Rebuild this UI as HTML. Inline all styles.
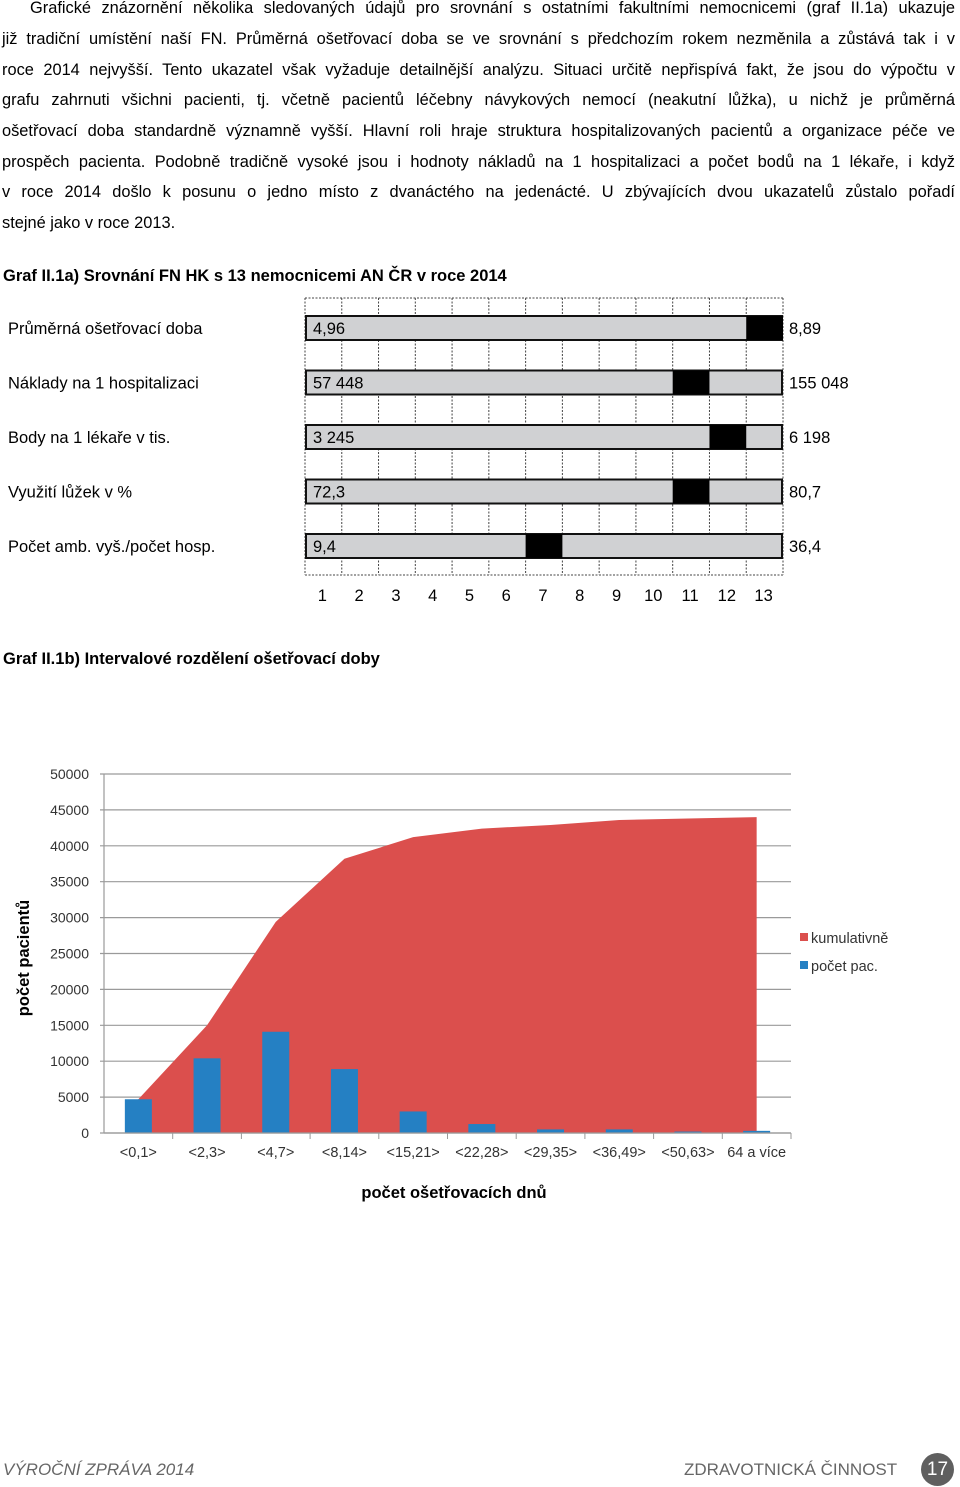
<!DOCTYPE html>
<html><head><meta charset="utf-8">
<style>
body{margin:0;width:960px;height:1487px;background:#fff;position:relative;overflow:hidden;font-family:"Liberation Sans",Arial,sans-serif;color:#000}
.ln{position:absolute;left:2px;width:953px;font-size:16.4px;line-height:20px;text-align:justify;text-align-last:justify;white-space:nowrap}
.ln.last{text-align-last:left}
.h{position:absolute;left:3px;font-size:16.5px;font-weight:bold}
.lbl{position:absolute;left:8px;font-size:16.5px}
.val{position:absolute;left:789px;font-size:16.5px}
svg text{font-family:"Liberation Sans",Arial,sans-serif}
</style></head><body>
<div>
<div class="ln" style="top:-2px;left:30px;width:925px">Grafické znázornění několika sledovaných údajů pro srovnání s ostatními fakultními nemocnicemi (graf II.1a) ukazuje</div>
<div class="ln" style="top:29px">již tradiční umístění naší FN. Průměrná ošetřovací doba se ve srovnání  s předchozím rokem nezměnila a zůstává tak i v</div>
<div class="ln" style="top:60px">roce 2014 nejvyšší. Tento ukazatel však vyžaduje detailnější analýzu. Situaci určitě nepřispívá fakt, že jsou do výpočtu v</div>
<div class="ln" style="top:90px">grafu zahrnuti všichni pacienti, tj. včetně pacientů léčebny návykových nemocí (neakutní lůžka), u nichž je průměrná</div>
<div class="ln" style="top:121px">ošetřovací doba standardně významně vyšší. Hlavní roli hraje struktura hospitalizovaných pacientů a organizace péče ve</div>
<div class="ln" style="top:152px">prospěch pacienta. Podobně tradičně vysoké jsou i hodnoty nákladů na 1 hospitalizaci a počet bodů na 1 lékaře, i když</div>
<div class="ln" style="top:182px">v roce 2014 došlo k posunu o jedno místo z dvanáctého na jedenácté. U zbývajících dvou ukazatelů zůstalo pořadí</div>
<div class="ln last" style="top:213px">stejné jako v roce 2013.</div>
</div>
<div class="h" style="top:267px">Graf II.1a) Srovnání FN HK s 13 nemocnicemi AN ČR v roce 2014</div>

<svg id="c1" style="position:absolute;left:0;top:0" width="960" height="620"></svg>
<div class="h" style="top:650px">Graf II.1b) Intervalové rozdělení ošetřovací doby</div>
<svg id="c2" style="position:absolute;left:0;top:700px" width="960" height="520"></svg>

<div style="position:absolute;left:3px;top:1460px;font-size:17px;font-style:italic;color:#666">VÝROČNÍ ZPRÁVA 2014</div>
<div style="position:absolute;left:684px;top:1460px;font-size:17px;color:#666">ZDRAVOTNICKÁ ČINNOST</div>
<div style="position:absolute;left:921px;top:1453px;width:33px;height:33px;border-radius:50%;background:#5f5f5f;color:#fff;font-size:19px;text-align:center;line-height:33px">17</div>

<script>
// Chart 1a data
const indicators=["Průměrná ošetřovací doba","Náklady na 1 hospitalizaci","Body na 1 lékaře v tis.","Využití lůžek v %","Počet amb. vyš./počet hosp."];
const minVals=["4,96","57 448","3 245","72,3","9,4"];
const maxVals=["8,89","155 048","6 198","80,7","36,4"];
const ranks=[13,11,12,11,7];
const rankTicks=["1","2","3","4","5","6","7","8","9","10","11","12","13"];

const NS="http://www.w3.org/2000/svg";
function mk(svg,tag,attrs,txt){const e=document.createElementNS(NS,tag);for(const k in attrs)e.setAttribute(k,attrs[k]);if(txt!==undefined)e.textContent=txt;svg.appendChild(e);return e;}
const s1=document.getElementById('c1');
const gx0=305,gx1=783,gTop=298,gBot=575;
const colW=(gx1-gx0)/rankTicks.length;
function colX(r){return gx0+(r-1)*colW;}
// grid
for(let i=0;i<=rankTicks.length;i++){
 const l=mk(s1,'line',{x1:colX(i+1),x2:colX(i+1),y1:gTop,y2:gBot,stroke:'#444','stroke-dasharray':'2,1.5','stroke-width':1});
 
 
}
[gTop,gBot].forEach(y=>{const l=mk(s1,'line',{x1:gx0,x2:gx1,y1:y,y2:y,stroke:'#444','stroke-dasharray':'2,1.5'});
 
 });
const rowY0=316,rowStep=54.5,barH=24;
indicators.forEach((name,i)=>{
 const y=rowY0+i*rowStep;
 const b=mk(s1,'rect',{x:gx0+1,y:y,width:gx1-gx0-2,height:barH,fill:'#d0d1d3',stroke:'#111','stroke-width':2});
 
 
 const m=mk(s1,'rect',{x:colX(ranks[i]),y:y,width:colW,height:barH,fill:'#000'});
 
 
 const t=mk(s1,'text',{x:gx0+8,y:y+18,'font-size':16.5},minVals[i]);
 
 
 const t2=mk(s1,'text',{x:789,y:y+18,'font-size':16.5},maxVals[i]);
 
 
 const t3=mk(s1,'text',{x:8,y:y+18,'font-size':16.5},name);
 
 
});
rankTicks.forEach((r,i)=>{
 const t=mk(s1,'text',{x:colX(i+1)+colW/2-1,y:601,'font-size':16.5,'text-anchor':'middle'},r);
 
 
});

// Chart 1b data
const categories=["<0,1>","<2,3>","<4,7>","<8,14>","<15,21>","<22,28>","<29,35>","<36,49>","<50,63>","64 a více"];
const patients=[4700,10400,14100,8900,3000,1250,500,500,200,300];
const cumulative=[4700,15000,29400,38200,41200,42400,42900,43600,43800,44000];
const yTicks=[0,5000,10000,15000,20000,25000,30000,35000,40000,45000,50000];

const s2=document.getElementById('c2');
const OY=700;
const px0=104,px1=791,py0=1133-OY,py1=774-OY,yMax=50000;
const cw=(px1-px0)/categories.length;
function X(i){return px0+cw*(i+0.5);}
function Y(v){return py0-(v/yMax)*(py0-py1);}
yTicks.forEach(v=>{
 const g=mk(s2,'line',{x1:px0-4,x2:px1,y1:Y(v),y2:Y(v),stroke:'#9a9a9a','stroke-width':1.2});
 
 
 const t=mk(s2,'text',{x:89,y:Y(v)+5,'font-size':14,'text-anchor':'end',fill:'#333'},String(v));
 
 
});
mk(s2,'line',{x1:px0,x2:px0,y1:py1,y2:py0,stroke:'#9a9a9a','stroke-width':1.2});
// area
let d='M'+X(0)+','+py0;
cumulative.forEach((v,i)=>{d+=' L'+X(i)+','+Y(v);});
d+=' L'+X(cumulative.length-1)+','+py0+' Z';
const ar=mk(s2,'path',{d:d,fill:'#db4f4d'});


const bw=27;
patients.forEach((v,i)=>{
 const r=mk(s2,'rect',{x:X(i)-bw/2,y:Y(v),width:bw,height:py0-Y(v),fill:'#2580c3'});
 
 
});
mk(s2,'line',{x1:px0,x2:px1,y1:py0,y2:py0,stroke:'#9a9a9a','stroke-width':1.2});
categories.forEach((c,i)=>{
 mk(s2,'line',{x1:px0+cw*(i+1),x2:px0+cw*(i+1),y1:py0,y2:py0+6,stroke:'#9a9a9a'});
 const t=mk(s2,'text',{x:X(i),y:py0+24,'font-size':14.5,'text-anchor':'middle',fill:'#333'},c);
 
 
});
const xt=mk(s2,'text',{x:454,y:1198-OY,'font-size':16.5,'font-weight':'bold','text-anchor':'middle'},'počet ošetřovacích dnů');


const yt=mk(s2,'text',{x:0,y:0,'font-size':16.5,'font-weight':'bold','text-anchor':'middle',transform:'translate(29,'+(958-OY)+') rotate(-90)'},'počet pacientů');


[['#db4f4d','kumulativně',938],['#2580c3','počet pac.',966]].forEach(l=>{
 const r=mk(s2,'rect',{x:800,y:l[2]-OY-5,width:8,height:8,fill:l[0]});
 
 
 const t=mk(s2,'text',{x:811,y:l[2]-OY+5,'font-size':14.5,fill:'#333'},l[1]);
 
 
});
</script>
</body></html>
